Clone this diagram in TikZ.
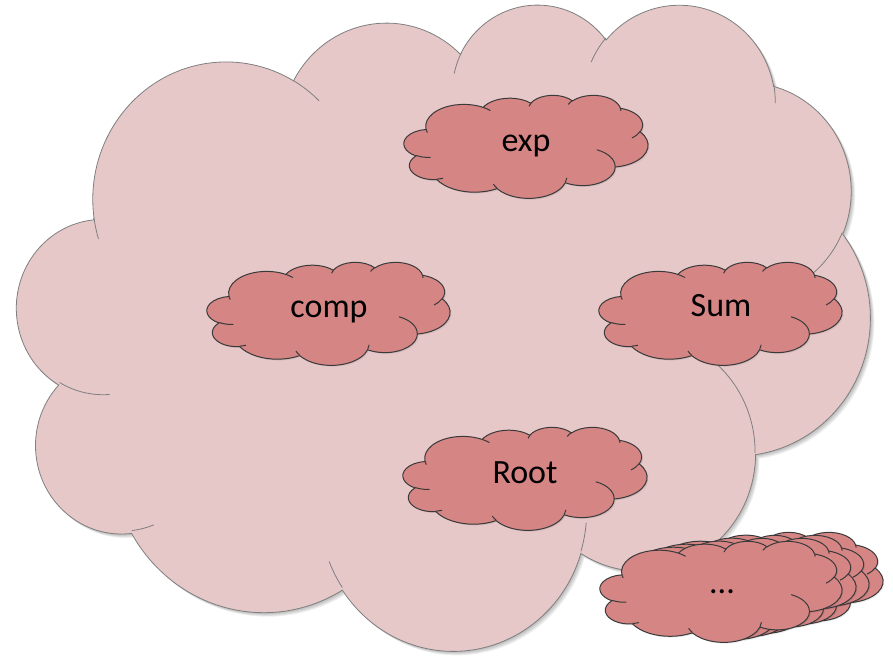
\documentclass[tikz,border=0pt]{standalone}
\usepackage{fontspec}
\setmainfont{Carlito}

\definecolor{cloudpale}{HTML}{E6C8C9}
\definecolor{cloudrose}{HTML}{D68585}
\definecolor{paleline}{HTML}{7F7F7F}
\definecolor{roseline}{HTML}{3A3A3A}

% Convert a visual angle on an ellipse (radii #2,#3) into the parametric
% angle used by TikZ arcs; stores it globally in \cld<#1>.
\newcommand\cldang[4]{%
  \pgfmathparse{atan2((#2)*sin(#4),(#3)*cos(#4))}%
  \let\cldtmp\pgfmathresult
  \pgfmathparse{\cldtmp+360*round(((#4)-\cldtmp)/360)}%
  \expandafter\xdef\csname cld#1\endcsname{\pgfmathresult}}
% tag, x radius, y radius, start angle, sweep
\newcommand\cldarc[5]{%
  \cldang{#1s}{#2}{#3}{#4}%
  \cldang{#1e}{#2}{#3}{(#4)+(#5)}}

% outline lobes
\cldarc{A}{6.753}{9.190}{-190.4875}{123.7805}
\cldarc{B}{5.333}{7.267}{-144.1024}{89.9452}
\cldarc{C}{4.365}{5.945}{-145.8079}{99.7230}
\cldarc{D}{4.857}{6.595}{-130.9861}{117.2417}
\cldarc{E}{5.333}{7.273}{-78.7089}{109.0269}
\cldarc{F}{6.775}{9.220}{-46.2673}{130.2690}
\cldarc{G}{5.785}{7.867}{0.6250}{114.0333}
\cldarc{H}{6.752}{9.215}{22.4516}{115.1726}
\cldarc{I}{7.720}{10.543}{66.2426}{75.7110}
\cldarc{J}{4.360}{5.918}{-274.9421}{146.7356}
\cldarc{K}{4.345}{5.945}{-246.8285}{152.5189}
% inner creases
\cldarc{a}{4.345}{5.945}{86.7420}{26.4295}
\cldarc{b}{4.360}{5.918}{73.6105}{11.4475}
\cldarc{c}{6.752}{9.215}{137.6242}{14.0811}
\cldarc{d}{6.752}{9.215}{6.4533}{15.9984}
\cldarc{e}{5.785}{7.867}{-70.2924}{70.9174}
\cldarc{f}{5.333}{7.273}{30.3180}{27.7515}
\cldarc{g}{4.857}{6.595}{-13.7443}{14.8589}
\cldarc{h}{4.857}{6.595}{-149.1815}{18.1954}
\cldarc{i}{4.365}{5.945}{-163.4943}{17.6864}
\cldarc{j}{6.753}{9.190}{-66.7070}{12.3194}
\cldarc{k}{6.753}{9.190}{157.6544}{11.8582}

% cloud outline in a 43.2 x 43.2 box, y pointing down
\newcommand\cloudbody[1]{\path[#1] (3.900,14.370)
  arc[x radius=6.753,y radius=9.190,start angle=\cldAs,end angle=\cldAe]
  arc[x radius=5.333,y radius=7.267,start angle=\cldBs,end angle=\cldBe]
  arc[x radius=4.365,y radius=5.945,start angle=\cldCs,end angle=\cldCe]
  arc[x radius=4.857,y radius=6.595,start angle=\cldDs,end angle=\cldDe]
  arc[x radius=5.333,y radius=7.273,start angle=\cldEs,end angle=\cldEe]
  arc[x radius=6.775,y radius=9.220,start angle=\cldFs,end angle=\cldFe]
  arc[x radius=5.785,y radius=7.867,start angle=\cldGs,end angle=\cldGe]
  arc[x radius=6.752,y radius=9.215,start angle=\cldHs,end angle=\cldHe]
  arc[x radius=7.720,y radius=10.543,start angle=\cldIs,end angle=\cldIe]
  arc[x radius=4.360,y radius=5.918,start angle=\cldJs,end angle=\cldJe]
  arc[x radius=4.345,y radius=5.945,start angle=\cldKs,end angle=\cldKe]
  -- cycle;}
\newcommand\cloudcreases[1]{\path[#1]
  (4.693,26.177) arc[x radius=4.345,y radius=5.945,start angle=\cldas,end angle=\cldae]
  (6.928,34.899) arc[x radius=4.360,y radius=5.918,start angle=\cldbs,end angle=\cldbe]
  (16.478,39.090) arc[x radius=6.752,y radius=9.215,start angle=\cldcs,end angle=\cldce]
  (28.827,34.751) arc[x radius=6.752,y radius=9.215,start angle=\cldds,end angle=\cldde]
  (34.129,22.954) arc[x radius=5.785,y radius=7.867,start angle=\cldes,end angle=\cldee]
  (41.798,15.354) arc[x radius=5.333,y radius=7.273,start angle=\cldfs,end angle=\cldfe]
  (38.324,5.426) arc[x radius=4.857,y radius=6.595,start angle=\cldgs,end angle=\cldge]
  (29.078,3.952) arc[x radius=4.857,y radius=6.595,start angle=\cldhs,end angle=\cldhe]
  (22.141,4.720) arc[x radius=4.365,y radius=5.945,start angle=\cldis,end angle=\cldie]
  (14.000,5.192) arc[x radius=6.753,y radius=9.190,start angle=\cldjs,end angle=\cldje]
  (4.127,15.789) arc[x radius=6.753,y radius=9.190,start angle=\cldks,end angle=\cldke];}

% left, top, width, height, body style, crease style, shadow offsets
\newcommand\drawcloud[7]{%
  \foreach \d in {#7}{%
    \begin{scope}[shift={(#1+\d,-#2-\d)},xscale=#3/43.2,yscale=-#4/43.2]
      \cloudbody{cloud shadow}
    \end{scope}}%
  \begin{scope}[shift={(#1,-#2)},xscale=#3/43.2,yscale=-#4/43.2]
    \cloudbody{#5}
    \cloudcreases{#6}
  \end{scope}}

\tikzset{
  cloud shadow/.style={fill=black,fill opacity=0.06},
  big body/.style={fill=cloudpale,draw=paleline,line width=0.8pt},
  big crease/.style={draw=paleline,line width=0.8pt},
  small body/.style={fill=cloudrose,draw=roseline,line width=1pt},
  small crease/.style={draw=roseline,line width=1pt},
  cloudtext/.style={font=\fontsize{34}{40}\selectfont,anchor=base,inner sep=0pt}
}

\begin{document}
\begin{tikzpicture}[x=1pt,y=1pt]
\useasboundingbox (0,0) rectangle (893,-658);

% enclosing cloud
\drawcloud{17}{3}{853}{646}{big body}{big crease}{0.8,1.6,2.4,3.2,4}

% inner clouds
\drawcloud{404}{95}{244}{103}{small body}{small crease}{0.7,1.4}
\drawcloud{207}{262}{243}{103}{small body}{small crease}{0.7,1.4}
\drawcloud{599}{262}{243}{103}{small body}{small crease}{0.7,1.4}
\drawcloud{403}{427}{244}{103}{small body}{small crease}{0.7,1.4}

% stack of further clouds, back to front
\drawcloud{641}{532}{242}{101}{small body}{small crease}{0.7,1.4}
\drawcloud{627}{535}{242}{101}{small body}{small crease}{0.7,1.4}
\drawcloud{614}{538}{242}{101}{small body}{small crease}{0.7,1.4}
\drawcloud{600}{541}{242}{101}{small body}{small crease}{0.7,1.4}

\node[cloudtext] (exp)  at (526,-151) {exp};
\node[cloudtext] (comp) at (329,-317) {comp};
\node[cloudtext] (sum)  at (721,-316) {Sum};
\node[cloudtext] (root) at (525,-483) {Root};
\node[cloudtext] (more) at (722,-593) {...};
\end{tikzpicture}
\end{document}
